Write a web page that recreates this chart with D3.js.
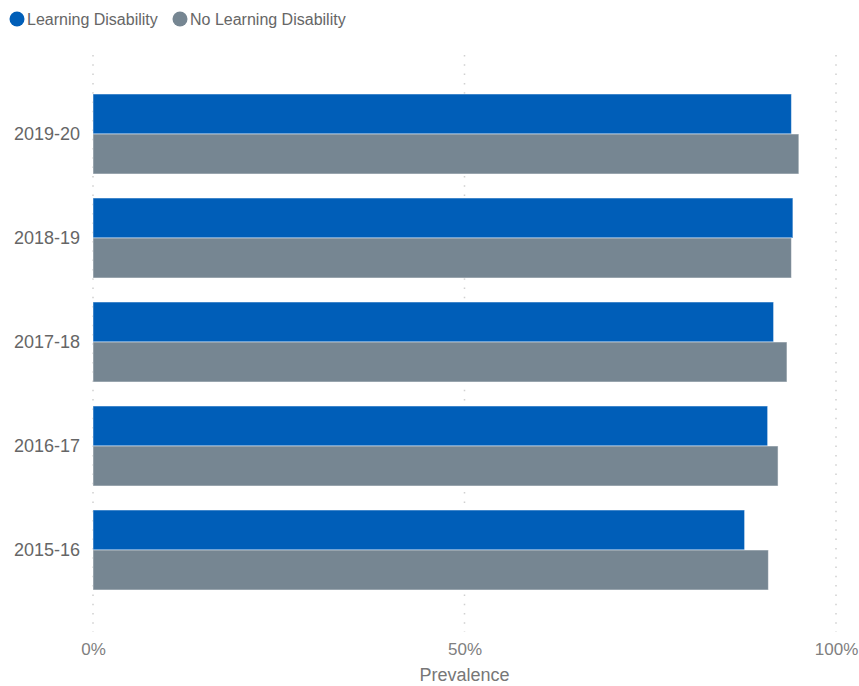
<!DOCTYPE html>
<html>
<head>
<meta charset="utf-8">
<script src="https://cdn.jsdelivr.net/npm/d3@7"></script>
<style>
  html, body { margin: 0; padding: 0; background: #fff; }
  svg { display: block; font-family: "Liberation Sans", Arial, sans-serif; }
</style>
</head>
<body>
<svg id="chart" width="859" height="686"></svg>
<script>
const categories = ["2019-20", "2018-19", "2017-18", "2016-17", "2015-16"];
const seriesNames = ["Learning Disability", "No Learning Disability"];
const learningDisability = [94.0, 94.2, 91.6, 90.8, 87.7];
const noLearningDisability = [95.0, 94.0, 93.4, 92.2, 90.9];
const xTicks = [0, 50, 100];
const colors = ["#005EB8", "#768692"];

const svg = d3.select("#chart");
const margin = { left: 93, right: 23, top: 82, bottom: 84 };
const W = 859, H = 686;

const x = d3.scaleLinear().domain([0, 100]).range([margin.left, W - margin.right]);
const y = d3.scaleBand().domain(categories).range([margin.top, H - margin.bottom]).paddingInner(0.2308).paddingOuter(0.1154);
const ySub = d3.scaleBand().domain(seriesNames).range([0, y.bandwidth()]);

// gridlines
svg.append("g").selectAll("line").data(xTicks).join("line")
  .attr("x1", d => x(d)).attr("x2", d => x(d))
  .attr("y1", 55).attr("y2", 632)
  .attr("stroke", "#d0d0d0").attr("stroke-width", 1.5)
  .attr("stroke-dasharray", "1.5,7.8");

// bars
const data = categories.map((c, i) => ({ cat: c, vals: [learningDisability[i], noLearningDisability[i]] }));
const groups = svg.append("g").selectAll("g").data(data).join("g")
  .attr("transform", d => `translate(0,${y(d.cat)})`);
groups.selectAll("rect").data(d => d.vals.map((v, j) => ({ v, s: seriesNames[j], j })))
  .join("rect")
  .attr("x", x(0))
  .attr("y", d => ySub(d.s))
  .attr("width", d => x(d.v) - x(0))
  .attr("height", ySub.bandwidth())
  .attr("fill", d => colors[d.j])
  .attr("stroke", "#ffffff").attr("stroke-opacity", 0.5).attr("stroke-width", 1);

// y axis labels
const yAxis = d3.axisLeft(y).tickSize(0).tickPadding(13);
const yg = svg.append("g").attr("transform", `translate(${x(0)},0)`).call(yAxis);
yg.select(".domain").remove();
yg.selectAll("text").attr("font-size", 18).attr("fill", "#666").attr("font-family", "Liberation Sans, Arial, sans-serif");

// x axis labels
const xAxis = d3.axisBottom(x).tickValues(xTicks).tickFormat(d => d + "%").tickSize(0).tickPadding(0);
const xg = svg.append("g").attr("transform", `translate(0,643)`).call(xAxis);
xg.select(".domain").remove();
xg.selectAll("text").attr("font-size", 17).attr("fill", "#808080").attr("font-family", "Liberation Sans, Arial, sans-serif");

// axis title
svg.append("text").attr("x", x(50)).attr("y", 681).attr("text-anchor", "middle")
  .attr("font-size", 18).attr("fill", "#777").text("Prevalence");

// legend
const legendX = [17, 180];
const lg = svg.append("g").selectAll("g").data(seriesNames).join("g")
  .attr("transform", (d, i) => `translate(${legendX[i]},19)`);
lg.append("circle").attr("r", 7.5).attr("fill", (d, i) => colors[i]);
lg.append("text").attr("x", 10).attr("y", 6).attr("font-size", 16).attr("fill", "#666").text(d => d);
</script>
</body>
</html>
